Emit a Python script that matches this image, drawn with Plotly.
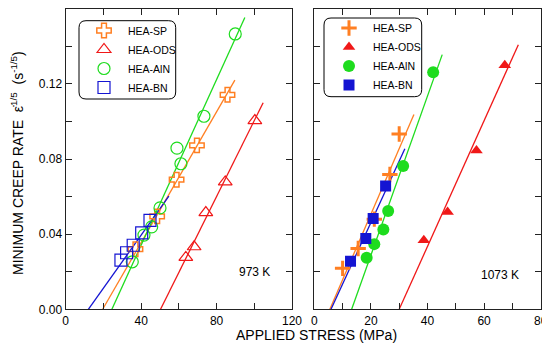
import plotly.graph_objects as go

# ---------------- data (973 K, left panel) ----------------
sp973_x = [37.0, 48.5, 58.8, 69.6, 85.8]
sp973_y = [0.032, 0.0495, 0.069, 0.0873, 0.1142]
sp973_fit_x = [19.6, 89.7]
sp973_fit_y = [0.0, 0.122]

ods973_x = [63.7, 68.1, 74.3, 84.6, 100.3]
ods973_y = [0.0276, 0.0333, 0.0515, 0.0678, 0.1005]
ods973_fit_x = [50.3, 104.7]
ods973_fit_y = [0.0, 0.110]

aln973_x = [35.3, 41.5, 45.6, 50.0, 59.0, 61.1, 73.3, 89.9]
aln973_y = [0.0253, 0.0395, 0.0439, 0.054, 0.0858, 0.0775, 0.1028, 0.1466]
aln973_fit_x = [24.5, 95.0]
aln973_fit_y = [0.0, 0.1554]

bn973_x = [29.3, 32.3, 35.8, 40.3, 44.7]
bn973_y = [0.0262, 0.0301, 0.0341, 0.0407, 0.0474]
bn973_fit_x = [12.0, 54.7]
bn973_fit_y = [0.0, 0.0602]

# ---------------- data (1073 K, right panel) ----------------
sp1073_x = [10.0, 15.5, 21.2, 26.7, 30.0]
sp1073_y = [0.0218, 0.0324, 0.048, 0.0718, 0.0933]
sp1073_fit_x = [5.5, 35.2]
sp1073_fit_y = [0.0, 0.1037]

ods1073_x = [38.7, 47.1, 57.3, 67.3]
ods1073_y = [0.0368, 0.0518, 0.0846, 0.130]
ods1073_fit_x = [30.0, 72.1]
ods1073_fit_y = [0.0, 0.1409]

aln1073_x = [18.5, 21.2, 24.4, 26.1, 31.4, 42.0]
aln1073_y = [0.0274, 0.0347, 0.0425, 0.0524, 0.0763, 0.1262]
aln1073_fit_x = [13.2, 45.2]
aln1073_fit_y = [0.0, 0.1356]

bn1073_x = [12.8, 18.2, 20.8, 25.2]
bn1073_y = [0.0256, 0.0377, 0.0483, 0.0656]
bn1073_fit_x = [5.9, 32.0]
bn1073_fit_y = [0.0, 0.0855]

series_names = ["HEA-SP", "HEA-ODS", "HEA-AlN", "HEA-BN"]
temps = ["973 K", "1073 K"]

left_xticks = [0, 20, 40, 60, 80, 100, 120]
left_xlabels = ["0", "", "40", "", "80", "", "120"]
right_xticks = [0, 10, 20, 30, 40, 50, 60, 70, 80]
right_xlabels = ["0", "", "20", "", "40", "", "60", "", "80"]
yticks = [0.0, 0.02, 0.04, 0.06, 0.08, 0.10, 0.12, 0.14, 0.16]
ylabels = ["0.00", "", "0.04", "", "0.08", "", "0.12", "", "0.16"]

ORANGE = "#FF7F22"
RED = "#F01818"
GREEN = "#1EDC1E"
BLUE = "#1414D2"
FONT = "Arial, Liberation Sans, sans-serif"

# the page body adds an 8px margin, so the figure is 8px smaller and shifted
OFF = 8
W, H = 550 - OFF, 348 - OFF

def X(p):
    return (p - OFF) / W

def Y(p):
    return 1 - (p - OFF) / H

fig = go.Figure()

def fit(xs, ys, color, xa, ya):
    fig.add_trace(go.Scatter(x=xs, y=ys, mode="lines", line=dict(color=color, width=1.3),
                             showlegend=False, xaxis=xa, yaxis=ya, hoverinfo="skip"))

def pts(xs, ys, name, color, symbol, size, lw, xa, ya, legend):
    marker = dict(symbol=symbol, size=size, color=color, line=dict(color=color, width=lw))
    fig.add_trace(go.Scatter(x=xs, y=ys, mode="markers", name=name, marker=marker,
                             xaxis=xa, yaxis=ya, legend=legend))

# left panel fits
fit(sp973_fit_x, sp973_fit_y, ORANGE, "x", "y")
fit(ods973_fit_x, ods973_fit_y, RED, "x", "y")
fit(aln973_fit_x, aln973_fit_y, GREEN, "x", "y")
fit(bn973_fit_x, bn973_fit_y, BLUE, "x", "y")
# left panel points (open)
pts(sp973_x, sp973_y, series_names[0], ORANGE, "cross-open", 12, 1.5, "x", "y", "legend")
pts(ods973_x, ods973_y, series_names[1], RED, "triangle-up-open", 12, 1.2, "x", "y", "legend")
pts(aln973_x, aln973_y, series_names[2], GREEN, "circle-open", 12, 1.2, "x", "y", "legend")
pts(bn973_x, bn973_y, series_names[3], BLUE, "square-open", 12, 1.2, "x", "y", "legend")

# right panel fits
fit(sp1073_fit_x, sp1073_fit_y, ORANGE, "x2", "y2")
fit(ods1073_fit_x, ods1073_fit_y, RED, "x2", "y2")
fit(aln1073_fit_x, aln1073_fit_y, GREEN, "x2", "y2")
fit(bn1073_fit_x, bn1073_fit_y, BLUE, "x2", "y2")
# right panel points (filled)
pts(sp1073_x, sp1073_y, series_names[0], ORANGE, "cross-thin-open", 11, 3, "x2", "y2", "legend2")
pts(ods1073_x, ods1073_y, series_names[1], RED, "triangle-up", 11, 0, "x2", "y2", "legend2")
pts(aln1073_x, aln1073_y, series_names[2], GREEN, "circle", 12, 0, "x2", "y2", "legend2")
pts(bn1073_x, bn1073_y, series_names[3], BLUE, "square", 11, 0, "x2", "y2", "legend2")

axis_common = dict(showline=True, linecolor="#222222", linewidth=1.2, mirror="ticks",
                   ticks="inside", ticklen=6, tickcolor="#222222", tickwidth=1.2, automargin=False,
                   showgrid=False, zeroline=False, tickfont=dict(family=FONT, size=12, color="black"))

fig.update_layout(
    template="none",
    width=W, height=H, margin=dict(l=0, r=0, t=0, b=0, autoexpand=False),
    paper_bgcolor="white", plot_bgcolor="white",
    font=dict(family=FONT, color="black"),
    xaxis=dict(domain=[X(65.7), X(292.0)], range=[0, 120], tickvals=left_xticks, ticktext=left_xlabels,
               anchor="y", **axis_common),
    yaxis=dict(domain=[Y(309.3), Y(8.8)], range=[0, 0.16], tickvals=yticks, ticktext=ylabels,
               anchor="x", **axis_common),
    xaxis2=dict(domain=[X(314.3), X(540.7)], range=[0, 80], tickvals=right_xticks, ticktext=right_xlabels,
                anchor="y2", **axis_common),
    yaxis2=dict(domain=[Y(309.3), Y(8.8)], range=[0, 0.16], tickvals=yticks, showticklabels=False,
                anchor="x2", **axis_common),
    legend=dict(x=X(80), y=Y(16), xanchor="left", yanchor="top", bgcolor="rgba(0,0,0,0)",
                borderwidth=0, itemwidth=38, font=dict(family=FONT, size=10.5, color="black")),
    legend2=dict(x=X(325), y=Y(13.5), xanchor="left", yanchor="top", bgcolor="rgba(0,0,0,0)",
                 borderwidth=0, itemwidth=38, font=dict(family=FONT, size=10.5, color="black")),
)

def rounded_box(px0, py0, px1, py1, r=7):
    path = (f"M {X(px0 + r)},{Y(py0)} L {X(px1 - r)},{Y(py0)} Q {X(px1)},{Y(py0)} {X(px1)},{Y(py0 + r)} "
            f"L {X(px1)},{Y(py1 - r)} Q {X(px1)},{Y(py1)} {X(px1 - r)},{Y(py1)} "
            f"L {X(px0 + r)},{Y(py1)} Q {X(px0)},{Y(py1)} {X(px0)},{Y(py1 - r)} "
            f"L {X(px0)},{Y(py0 + r)} Q {X(px0)},{Y(py0)} {X(px0 + r)},{Y(py0)} Z")
    return dict(type="path", xref="paper", yref="paper", path=path,
                line=dict(color="black", width=1), fillcolor="rgba(0,0,0,0)", layer="above")

fig.update_layout(shapes=[rounded_box(79, 20.7, 175.7, 99), rounded_box(324, 18, 421.7, 96.7)])

fig.add_annotation(x=100.3, y=0.020, xref="x", yref="y", text=temps[0], showarrow=False,
                   font=dict(family=FONT, size=12, color="black"))
fig.add_annotation(x=65.5, y=0.0182, xref="x2", yref="y2", text=temps[1], showarrow=False,
                   font=dict(family=FONT, size=12, color="black"))
fig.add_annotation(x=X(316), y=Y(335), xref="paper", yref="paper", xanchor="center", yanchor="middle",
                   text="APPLIED STRESS (MPa)",
                   showarrow=False, font=dict(family=FONT, size=14, color="black"))
fig.add_annotation(x=X(17), y=Y(163), xref="paper", yref="paper", xanchor="center", yanchor="middle",
                   textangle=-90,
                   text="MINIMUM CREEP RATE  \u03b5\u0307<sup>1/5</sup>  (s<sup>-1/5</sup>)",
                   showarrow=False, font=dict(family=FONT, size=14, color="black"))

fig.write_html("out.html")
